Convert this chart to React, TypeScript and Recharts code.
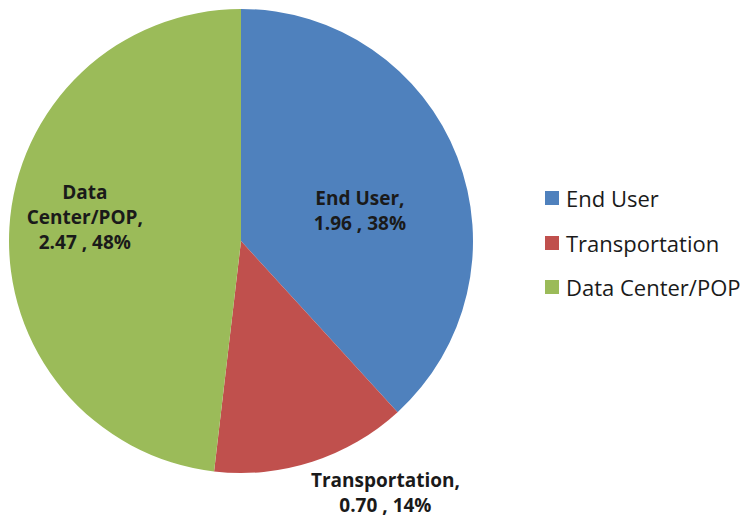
import { Cell, Legend, Pie, PieChart } from "recharts";

const categories = ["End User", "Transportation", "Data Center/POP"];
const values = [1.96, 0.7, 2.47];
const percents = ["38%", "14%", "48%"];
const labelLines = [
  ["End User,", "1.96  , 38%"],
  ["Transportation,", "0.70 , 14%"],
  ["Data", "Center/POP,", "2.47 , 48%"],
];
const colors = ["#4F81BD", "#C0504D", "#9BBB59"];

const data = categories.map((name, i) => ({ name, value: values[i], percent: percents[i] }));

const RAD = Math.PI / 180;
// label placement per slice: radius factor and nudge
const labelPos = [
  { r: 0.55, dx: 0, dy: 16 },
  { r: 1.1, dx: 66, dy: 9 },
  { r: 0.67, dx: -1, dy: -15 },
];

function renderLabel(props: any) {
  const { cx, cy, midAngle, outerRadius, index } = props;
  const p = labelPos[index];
  const x = cx + outerRadius * p.r * Math.cos(-midAngle * RAD) + p.dx;
  const y = cy + outerRadius * p.r * Math.sin(-midAngle * RAD) + p.dy;
  const lines = labelLines[index];
  const lh = 25;
  const top = y - ((lines.length - 1) * lh) / 2;
  return (
    <text
      x={x}
      y={top}
      textAnchor="middle"
      dominantBaseline="central"
      fill="#1a1a1a"
      fontSize={19}
      fontWeight="bold"
      fontFamily="'Open Sans', sans-serif"
    >
      {lines.map((l, i) => (
        <tspan key={i} x={x} dy={i === 0 ? 0 : lh}>
          {l}
        </tspan>
      ))}
    </text>
  );
}

function LegendContent() {
  return (
    <div style={{ fontFamily: "'Open Sans', sans-serif", fontSize: 22, color: "#1a1a1a" }}>
      {categories.map((c, i) => (
        <div key={c} style={{ display: "flex", alignItems: "center", height: 44.5, whiteSpace: "nowrap" }}>
          <span style={{ width: 14, height: 14, background: colors[i], marginRight: 7, flexShrink: 0 }} />
          {c}
        </div>
      ))}
    </div>
  );
}

export default function App() {
  return (
    <PieChart
      width={740}
      height={510}
      margin={{ top: 0, right: 0, bottom: 0, left: 0 }}
      style={{ background: "#fff" }}
    >
      <Pie
        data={data}
        dataKey="value"
        nameKey="name"
        cx={233}
        cy={233}
        outerRadius={232}
        startAngle={90}
        endAngle={-270}
        stroke="none"
        label={renderLabel}
        labelLine={false}
        isAnimationActive={false}
      >
        {data.map((d, i) => (
          <Cell key={d.name} fill={colors[i]} />
        ))}
      </Pie>
      <Legend
        layout="vertical"
        content={<LegendContent />}
        wrapperStyle={{ left: 537, top: 168, width: 203 }}
      />
    </PieChart>
  );
}
